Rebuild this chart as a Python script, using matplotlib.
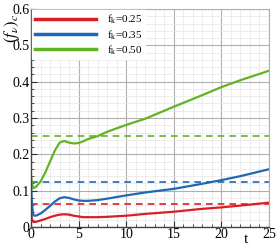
import matplotlib
matplotlib.use("Agg")
import matplotlib.pyplot as plt
from matplotlib.ticker import MultipleLocator, FuncFormatter

plt.rcParams['font.family'] = ['Liberation Serif', 'DejaVu Serif']
plt.rcParams['mathtext.fontset'] = 'stix'

# time samples
t = [0, 0.1, 0.25, 0.5, 1, 1.5, 2, 2.5, 3, 3.5, 4, 4.5, 5, 5.5, 6, 7, 8, 10, 12, 15, 18, 20, 22, 25]

f_025 = [0.045, 0.02, 0.014, 0.014, 0.018, 0.022, 0.027, 0.031, 0.034, 0.035, 0.034, 0.031,
         0.029, 0.027, 0.027, 0.027, 0.028, 0.031, 0.036, 0.042, 0.050, 0.054, 0.059, 0.067]
f_035 = [0.125, 0.06, 0.032, 0.031, 0.037, 0.047, 0.058, 0.070, 0.079, 0.082, 0.080, 0.076,
         0.073, 0.072, 0.072, 0.074, 0.078, 0.087, 0.095, 0.105, 0.119, 0.129, 0.140, 0.159]
f_050 = [0.14, 0.12, 0.107, 0.11, 0.125, 0.15, 0.18, 0.21, 0.232, 0.237, 0.232, 0.23,
         0.231, 0.236, 0.242, 0.25, 0.262, 0.281, 0.298, 0.331, 0.363, 0.385, 0.404, 0.43]

fk = [0.25, 0.35, 0.50]
colors = ['#dc1e24', '#1f68b4', '#62b322']
series = [f_025, f_035, f_050]

fig = plt.figure(figsize=(2.78, 2.47), dpi=100)
ax = fig.add_axes([0.1115, 0.081, 0.8561, 0.8826])

for k, y, c in zip(fk, series, colors):
    ax.plot(t, y, color=c, lw=1.6, label=f"f$_\\mathregular{{k}}$={k:.2f}")
    ax.axhline(k ** 2, color=c, lw=1.2, ls=(0, (4, 3)))

ax.set_xlim(0, 25)
ax.set_ylim(0, 0.6)
ax.xaxis.set_major_locator(MultipleLocator(5))
ax.xaxis.set_minor_locator(MultipleLocator(1))
ax.yaxis.set_major_locator(MultipleLocator(0.1))
ax.yaxis.set_minor_locator(MultipleLocator(0.02))
ax.xaxis.set_major_formatter(FuncFormatter(lambda v, p: f"{v:g}"))
ax.yaxis.set_major_formatter(FuncFormatter(lambda v, p: "0" if abs(v) < 1e-9 else f"{v:.1f}"))
ax.grid(which='major', color='#b0b0b0', lw=0.8)
ax.grid(which='minor', color='#e6e6e6', lw=0.5)
ax.set_axisbelow(True)
ax.tick_params(which='both', direction='in', labelsize=10, colors='#333333', labelcolor='black')
ax.tick_params(which='major', length=4, pad=1)
ax.tick_params(which='minor', length=2)
for s in ['left', 'bottom']:
    ax.spines[s].set_color('#444444')
    ax.spines[s].set_linewidth(1.0)
for s in ['top', 'right']:
    ax.spines[s].set_color('#b0b0b0')
    ax.spines[s].set_linewidth(0.8)

leg = ax.legend(loc='upper left', fontsize=8, handlelength=5.5, handletextpad=1.0,
                labelspacing=0.15, borderpad=0.25, borderaxespad=0.1,
                frameon=True, fancybox=False, framealpha=1, edgecolor='white')
for line in leg.get_lines():
    line.set_linewidth(2.5)

fig.text(246 / 278, 1 - 239 / 247, 't', fontsize=11, ha='center', va='center')
fig.text(12 / 278, 1 - 28 / 247, r'$(f_\nu)_c$', fontsize=12, rotation=90, ha='center', va='center')

fig.savefig('out.png', dpi=100)
